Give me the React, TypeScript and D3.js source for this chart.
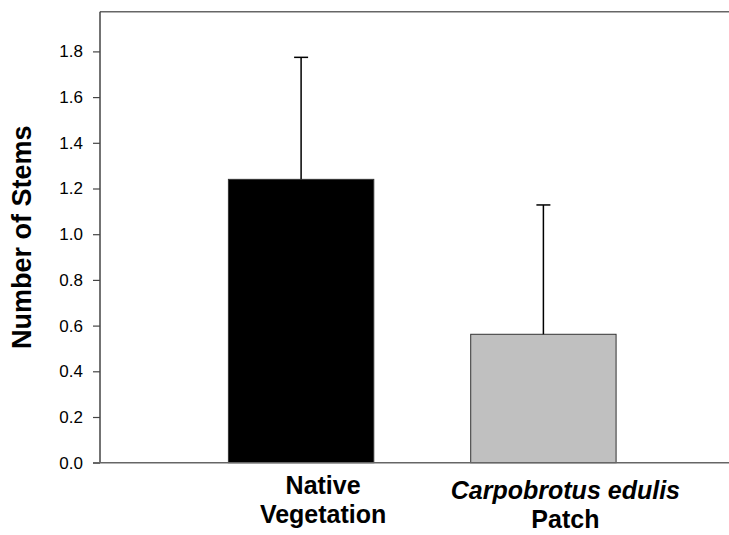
import React, { useRef, useEffect } from "react";
import * as d3 from "d3";

const width = 729;
const height = 535;

const categories = ["Native Vegetation", "Carpobrotus edulis Patch"];
const means = [1.24, 0.562];
const errors = [0.534, 0.566];
const barColors = ["#000000", "#c0c0c0"];
const labelLines = [
  [{ text: "Native", italic: false }, { text: "Vegetation", italic: false }],
  [{ text: "Carpobrotus edulis", italic: true }, { text: "Patch", italic: false }],
];
const labelDrop = [0, 5];
const tickValues = [0, 0.2, 0.4, 0.6, 0.8, 1.0, 1.2, 1.4, 1.6, 1.8];
const yMaxFrame = 1.973;

export default function App() {
  const ref = useRef<SVGSVGElement | null>(null);

  useEffect(() => {
    document.body.style.margin = "0";
    const svg = d3.select(ref.current);
    svg.selectAll("*").remove();

    const font = "Arial, 'Liberation Sans', sans-serif";

    const x = d3
      .scaleBand()
      .domain(categories)
      .range([100, 744.5])
      .paddingInner(0.4)
      .paddingOuter(0.53);

    const y = d3.scaleLinear().domain([0, 2]).range([462.7, 5.7]);

    // top frame line, runs off the right edge
    svg
      .append("line")
      .attr("x1", 100)
      .attr("x2", width + 20)
      .attr("y1", y(yMaxFrame))
      .attr("y2", y(yMaxFrame))
      .attr("stroke", "#666")
      .attr("stroke-width", 1.5);

    // bars
    svg
      .selectAll("rect.bar")
      .data(categories)
      .enter()
      .append("rect")
      .attr("class", "bar")
      .attr("x", (d) => x(d)!)
      .attr("y", (d, i) => y(means[i]))
      .attr("width", x.bandwidth())
      .attr("height", (d, i) => y(0) - y(means[i]))
      .attr("fill", (d, i) => barColors[i])
      .attr("stroke", "#333")
      .attr("stroke-width", 1);

    // error bars (upper only)
    const cap = 7;
    categories.forEach((c, i) => {
      const cx = x(c)! + x.bandwidth() / 2;
      svg
        .append("line")
        .attr("x1", cx)
        .attr("x2", cx)
        .attr("y1", y(means[i]))
        .attr("y2", y(means[i] + errors[i]))
        .attr("stroke", "#000")
        .attr("stroke-width", 1.5);
      svg
        .append("line")
        .attr("x1", cx - cap)
        .attr("x2", cx + cap)
        .attr("y1", y(means[i] + errors[i]))
        .attr("y2", y(means[i] + errors[i]))
        .attr("stroke", "#000")
        .attr("stroke-width", 1.5);
    });

    // Y axis
    const yAxis = svg
      .append("g")
      .attr("transform", "translate(100,0)")
      .call(
        d3
          .axisLeft(y)
          .tickValues(tickValues)
          .tickSize(7)
          .tickPadding(10)
          .tickFormat(d3.format(".1f"))
      );
    yAxis.select(".domain").remove();
    yAxis.selectAll(".tick line").attr("stroke", "#444").attr("stroke-width", 1.2);
    yAxis
      .selectAll(".tick text")
      .attr("font-family", font)
      .attr("font-size", 17)
      .attr("fill", "#000");

    svg
      .append("line")
      .attr("x1", 100)
      .attr("x2", 100)
      .attr("y1", y(yMaxFrame))
      .attr("y2", y(0))
      .attr("stroke", "#444")
      .attr("stroke-width", 1.5);

    // X axis baseline
    svg
      .append("line")
      .attr("x1", 93)
      .attr("x2", width + 20)
      .attr("y1", y(0))
      .attr("y2", y(0))
      .attr("stroke", "#666")
      .attr("stroke-width", 1.5);

    // category labels, one text per line
    categories.forEach((c, i) => {
      const cx = x(c)! + x.bandwidth() / 2 + 22;
      labelLines[i].forEach((ln, j) => {
        svg
          .append("text")
          .attr("x", cx)
          .attr("y", 494 + labelDrop[i] + j * 29)
          .attr("text-anchor", "middle")
          .attr("font-family", font)
          .attr("font-size", 25)
          .attr("font-weight", "bold")
          .attr("font-style", ln.italic ? "italic" : "normal")
          .attr("fill", "#000")
          .text(ln.text);
      });
    });

    // Y axis title
    svg
      .append("text")
      .attr("transform", `translate(31,${(y(0) + y(yMaxFrame)) / 2}) rotate(-90)`)
      .attr("text-anchor", "middle")
      .attr("font-family", font)
      .attr("font-size", 27)
      .attr("font-weight", "bold")
      .attr("fill", "#000")
      .text("Number of Stems");
  }, []);

  return <svg ref={ref} width={width} height={height} style={{ display: "block" }} />;
}
